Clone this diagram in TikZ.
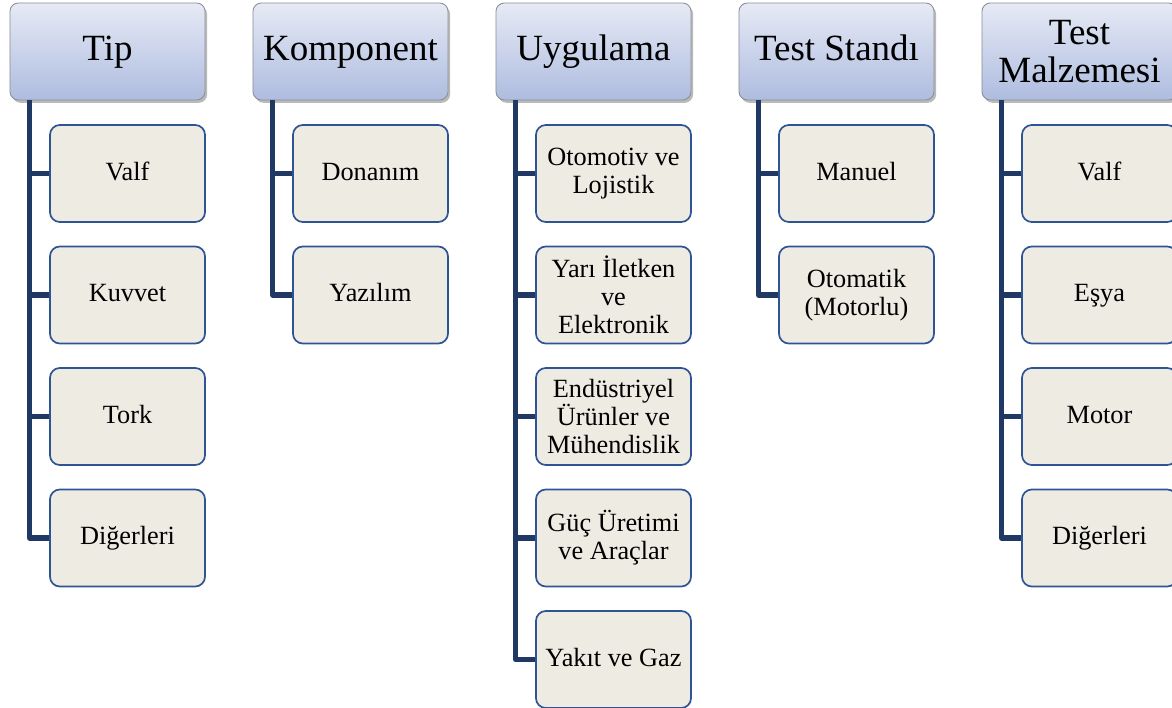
\documentclass[tikz,border=0pt]{standalone}
\usepackage{fontspec}
\setmainfont{Liberation Serif}
\usetikzlibrary{shadows}
\definecolor{TreeNavy}{HTML}{1F3864}
\definecolor{TreeEdge}{HTML}{2F5496}
\definecolor{TreeSand}{HTML}{EEEBE3}
\definecolor{TreeTop}{HTML}{E6EAF5}
\definecolor{TreeBottom}{HTML}{AEBCDF}
\definecolor{TreeGray}{HTML}{8A8E96}

\begin{document}
\begin{tikzpicture}[
  x=0.025cm,
  y=-0.025cm,
  head/.style={
    draw=TreeGray,
    rounded corners=6pt,
    align=center,
    line width=0.6pt,
    top color=TreeTop,
    bottom color=TreeBottom,
    minimum width=4.875cm,
    minimum height=2.425cm,
    inner sep=1pt,
    font=\fontsize{26.3}{27}\selectfont,
    drop shadow={shadow xshift=1.5pt, shadow yshift=-2pt, fill=black!45, opacity=0.6}
  },
  leaf/.style={
    draw=TreeEdge,
    rounded corners=7pt,
    align=center,
    line width=1.2pt,
    fill=TreeSand,
    minimum width=3.875cm,
    minimum height=2.425cm,
    inner sep=1pt,
    font=\fontsize{18.7}{19.8}\selectfont
  },
  headone/.style={text height=1.28em, text depth=0em},
  leafone/.style={text height=0.97em, text depth=0em},
  link/.style={draw=TreeNavy, line width=3.6pt, line join=round}
]
\useasboundingbox (0,0) rectangle (1172,708);

% column headers
\node[head, headone] (tip) at (107.5,51.5) {Tip};
\node[head, headone] (komponent) at (350.5,51.5) {Komponent};
\node[head, headone] (uygulama) at (593.5,51.5) {Uygulama};
\node[head, headone] (teststand) at (836.5,51.5) {Test Standı};
\node[head] (malzeme) at (1079.5,51.5) {Test\\Malzemesi};

% Tip
\node[leaf, leafone] (tipvalf) at (127.5,173.5) {Valf};
\node[leaf, leafone] (kuvvet) at (127.5,295) {Kuvvet};
\node[leaf, leafone] (tork) at (127.5,416.5) {Tork};
\node[leaf, leafone] (tipdiger) at (127.5,538) {Diğerleri};

% Komponent
\node[leaf, leafone] (donanim) at (370.5,173.5) {Donanım};
\node[leaf, leafone] (yazilim) at (370.5,295) {Yazılım};

% Uygulama
\node[leaf] (otomotiv) at (613.5,173.5) {Otomotiv ve\\Lojistik};
\node[leaf] (yariiletken) at (613.5,295) {Yarı İletken\\ve\\Elektronik};
\node[leaf] (endustri) at (613.5,416.5) {Endüstriyel\\Ürünler ve\\Mühendislik};
\node[leaf] (guc) at (613.5,538) {Güç Üretimi\\ve Araçlar};
\node[leaf, leafone] (yakit) at (613.5,659.5) {Yakıt ve Gaz};

% Test Standı
\node[leaf, leafone] (manuel) at (856.5,173.5) {Manuel};
\node[leaf] (otomatik) at (856.5,295) {Otomatik\\(Motorlu)};

% Test Malzemesi
\node[leaf, leafone] (mzvalf) at (1099.5,173.5) {Valf};
\node[leaf, leafone] (esya) at (1099.5,295) {Eşya};
\node[leaf, leafone] (motor) at (1099.5,416.5) {Motor};
\node[leaf, leafone] (mzdiger) at (1099.5,538) {Diğerleri};

\draw[link] ([xshift=0.5cm]tip.south west) |- (tipvalf.west);
\draw[link] ([xshift=0.5cm]tip.south west) |- (kuvvet.west);
\draw[link] ([xshift=0.5cm]tip.south west) |- (tork.west);
\draw[link] ([xshift=0.5cm]tip.south west) |- (tipdiger.west);

\draw[link] ([xshift=0.5cm]komponent.south west) |- (donanim.west);
\draw[link] ([xshift=0.5cm]komponent.south west) |- (yazilim.west);

\draw[link] ([xshift=0.5cm]uygulama.south west) |- (otomotiv.west);
\draw[link] ([xshift=0.5cm]uygulama.south west) |- (yariiletken.west);
\draw[link] ([xshift=0.5cm]uygulama.south west) |- (endustri.west);
\draw[link] ([xshift=0.5cm]uygulama.south west) |- (guc.west);
\draw[link] ([xshift=0.5cm]uygulama.south west) |- (yakit.west);

\draw[link] ([xshift=0.5cm]teststand.south west) |- (manuel.west);
\draw[link] ([xshift=0.5cm]teststand.south west) |- (otomatik.west);

\draw[link] ([xshift=0.5cm]malzeme.south west) |- (mzvalf.west);
\draw[link] ([xshift=0.5cm]malzeme.south west) |- (esya.west);
\draw[link] ([xshift=0.5cm]malzeme.south west) |- (motor.west);
\draw[link] ([xshift=0.5cm]malzeme.south west) |- (mzdiger.west);
\end{tikzpicture}
\end{document}
